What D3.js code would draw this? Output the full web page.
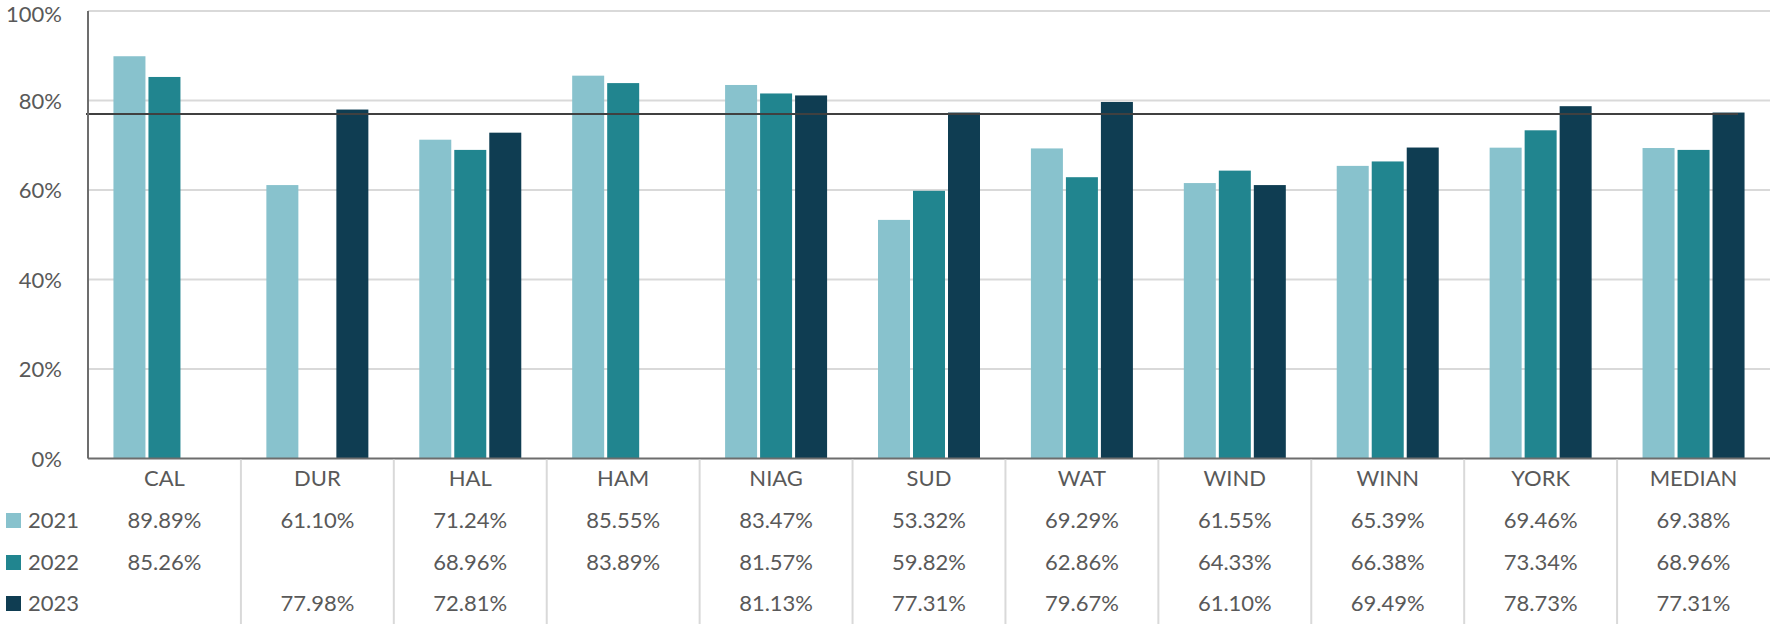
<!DOCTYPE html>
<html>
<head>
<meta charset="utf-8">
<script src="https://cdn.jsdelivr.net/npm/d3@7"></script>
<style>
  html, body { margin: 0; padding: 0; background: #fff; }
  svg { display: block; }
  text { font-family: Lato, "Open Sans", sans-serif; fill: #595959; }
</style>
</head>
<body>
<svg id="chart" width="1770" height="624"></svg>
<script>
const categories = ["CAL", "DUR", "HAL", "HAM", "NIAG", "SUD", "WAT", "WIND", "WINN", "YORK", "MEDIAN"];
const years = ["2021", "2022", "2023"];
const values2021 = [89.89, 61.10, 71.24, 85.55, 83.47, 53.32, 69.29, 61.55, 65.39, 69.46, 69.38];
const values2022 = [85.26, null, 68.96, 83.89, 81.57, 59.82, 62.86, 64.33, 66.38, 73.34, 68.96];
const values2023 = [null, 77.98, 72.81, null, 81.13, 77.31, 79.67, 61.10, 69.49, 78.73, 77.31];
const yTicks = [0, 20, 40, 60, 80, 100];
const targetValue = 77.0;
const colors = ["#88C2CD", "#21858F", "#0F3D52"];

const series = [values2021, values2022, values2023];

const svg = d3.select("#chart");
const margin = { left: 88, right: 0, top: 11 };
const plotBottom = 458.5;
const width = 1770;

const x = d3.scaleBand().domain(categories).range([margin.left, width - margin.right]).padding(0);
const y = d3.scaleLinear().domain([0, 100]).range([plotBottom, margin.top]);

const barW = 32, barGap = 3;
const groupW = barW * 3 + barGap * 2;
const xs = d3.scaleBand().domain(years).range([0, groupW]).paddingInner(barGap / (barW + barGap)).paddingOuter(0);

// gridlines
svg.append("g").selectAll("line").data(yTicks.filter(d => d > 0)).join("line")
  .attr("x1", margin.left).attr("x2", width)
  .attr("y1", d => y(d)).attr("y2", d => y(d))
  .attr("stroke", "#d9d9d9").attr("stroke-width", 2);

// tick labels
svg.append("g").selectAll("text").data(yTicks).join("text")
  .attr("x", 62).attr("y", d => Math.max(y(d) + 8, 22))
  .attr("text-anchor", "end")
  .style("font-size", "22px")
  .text(d => d + "%");

// bars
series.forEach((vals, si) => {
  svg.append("g").selectAll("rect")
    .data(categories.map((c, i) => ({ c, v: vals[i] })).filter(d => d.v != null))
    .join("rect")
    .attr("x", d => x(d.c) + (x.bandwidth() - groupW) / 2 + xs(years[si]))
    .attr("width", xs.bandwidth())
    .attr("y", d => y(d.v))
    .attr("height", d => y(0) - y(d.v))
    .attr("fill", colors[si]);
});

// target line
svg.append("line")
  .attr("x1", margin.left - 2).attr("x2", 1738)
  .attr("y1", y(targetValue)).attr("y2", y(targetValue))
  .attr("stroke", "#404040").attr("stroke-width", 2);

// axes lines
svg.append("line")
  .attr("x1", margin.left).attr("x2", margin.left)
  .attr("y1", margin.top).attr("y2", plotBottom)
  .attr("stroke", "#6d6d6d").attr("stroke-width", 2);
svg.append("line")
  .attr("x1", margin.left).attr("x2", width)
  .attr("y1", plotBottom).attr("y2", plotBottom)
  .attr("stroke", "#6d6d6d").attr("stroke-width", 2);

// table separators
svg.append("g").selectAll("line").data(categories.slice(1)).join("line")
  .attr("x1", d => x(d)).attr("x2", d => x(d))
  .attr("y1", plotBottom + 1).attr("y2", 624)
  .attr("stroke", "#d9d9d9").attr("stroke-width", 2);

// category labels
svg.append("g").selectAll("text").data(categories).join("text")
  .attr("x", d => x(d) + x.bandwidth() / 2)
  .attr("y", 486)
  .attr("text-anchor", "middle")
  .style("font-size", "22px")
  .text(d => d);

// table rows
const rowY = [528, 570, 611];
series.forEach((vals, si) => {
  const g = svg.append("g");
  g.append("rect").attr("x", 6).attr("y", rowY[si] - 15).attr("width", 15).attr("height", 15).attr("fill", colors[si]);
  g.append("text").attr("x", 28).attr("y", rowY[si]).style("font-size", "22px").text(years[si]);
  g.selectAll("text.v")
    .data(categories.map((c, i) => ({ c, v: vals[i] })).filter(d => d.v != null))
    .join("text").attr("class", "v")
    .attr("x", d => x(d.c) + x.bandwidth() / 2)
    .attr("y", rowY[si])
    .attr("text-anchor", "middle")
    .style("font-size", "22px")
    .text(d => d.v.toFixed(2) + "%");
});
</script>
</body>
</html>
